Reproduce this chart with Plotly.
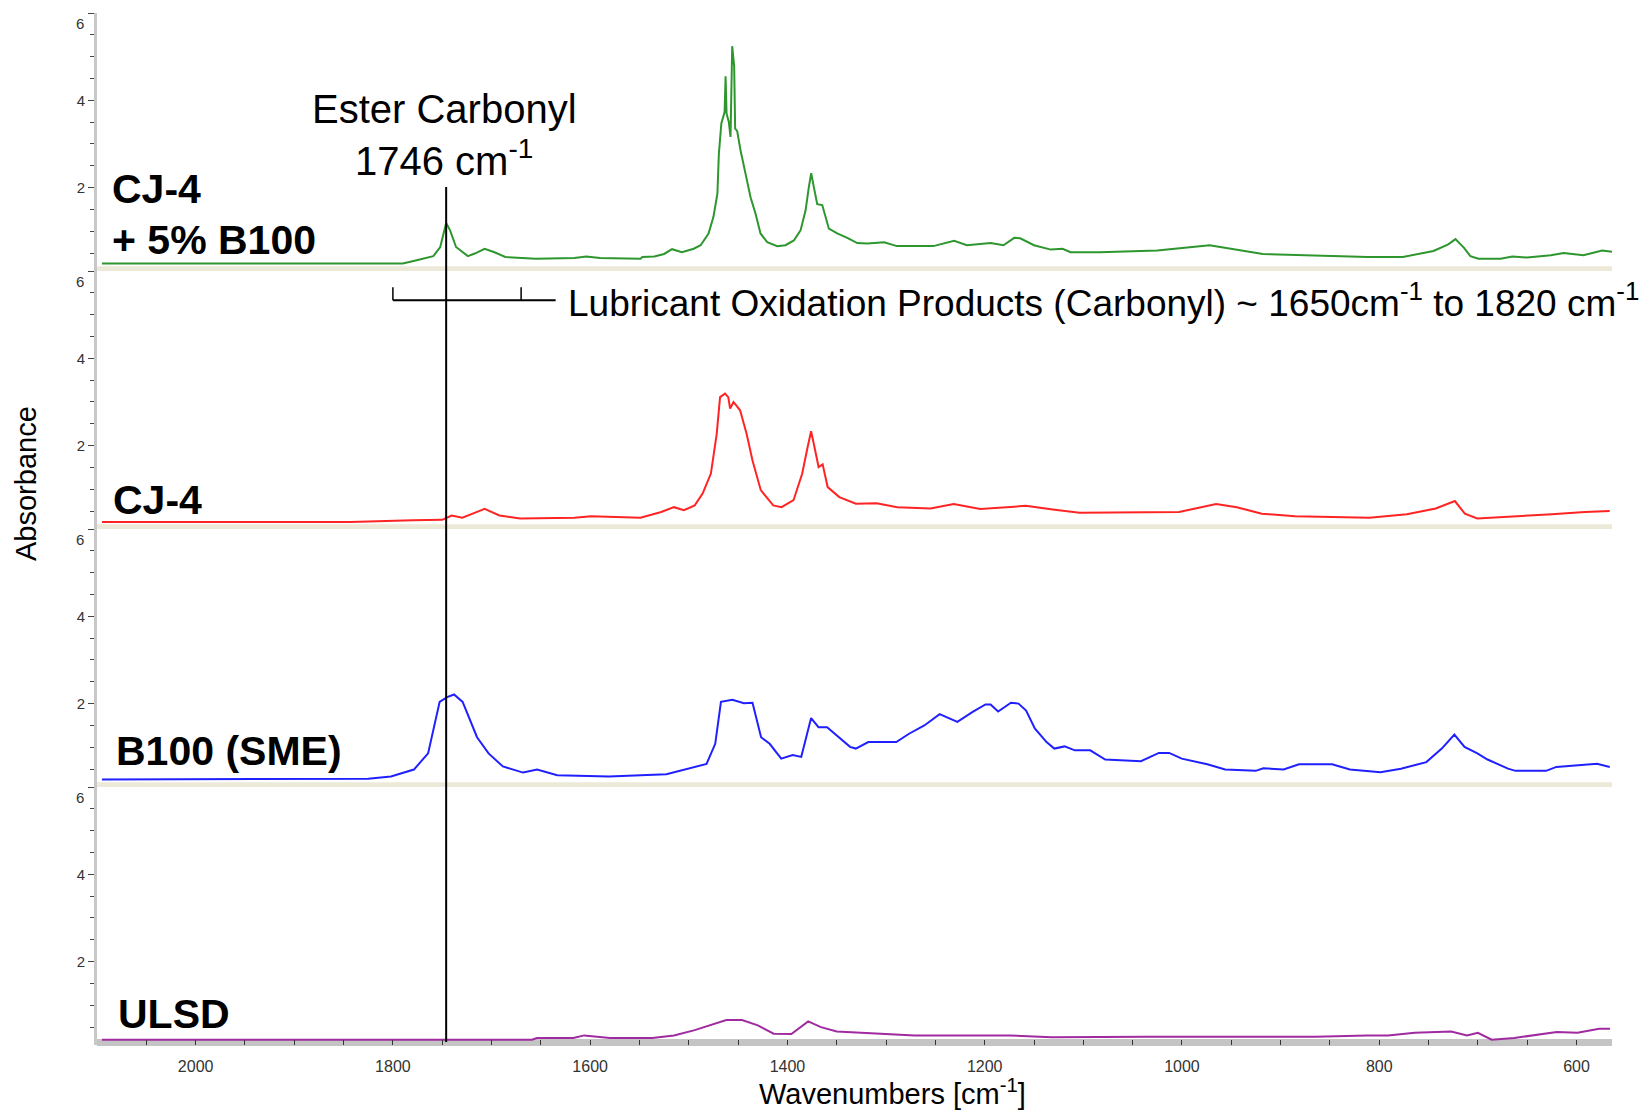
import plotly.graph_objects as go
from plotly.subplots import make_subplots

# ---------------- data (wavenumber cm-1, absorbance) ----------------
green_wn = [2095, 1790, 1779, 1759, 1752, 1748, 1746, 1742, 1736, 1724, 1717, 1707, 1697, 1686, 1655,
            1616, 1604, 1590, 1549, 1547, 1535, 1525, 1517, 1507, 1495, 1488, 1480, 1475, 1471, 1469.5,
            1467, 1463.7, 1462.7, 1461.7, 1459.4, 1457.7, 1456, 1454, 1453, 1451, 1447.5, 1442.5, 1437.4,
            1432.3, 1427.3, 1420.5, 1410.3, 1402, 1393.5, 1386.7, 1381.6, 1378.3, 1375.9, 1373.2, 1369.8,
            1364.7, 1358, 1349.5, 1339.3, 1329.2, 1319, 1302, 1289, 1252, 1231, 1218, 1194, 1181, 1170,
            1164, 1150, 1133, 1121, 1113, 1083, 1025, 972, 918, 812, 776, 745, 730, 722.7, 714, 707.6,
            699.4, 677, 665, 650, 626, 613, 593, 574, 564]
green_abs = [0.26, 0.26, 0.32, 0.43, 0.64, 1.02, 1.19, 1.02, 0.64, 0.43, 0.49, 0.60, 0.52, 0.41, 0.37,
             0.39, 0.42, 0.39, 0.37, 0.41, 0.42, 0.48, 0.59, 0.52, 0.60, 0.68, 0.95, 1.33, 1.86, 2.78,
             3.47, 3.73, 4.55, 3.70, 3.50, 3.16, 5.24, 4.78, 3.35, 3.30, 2.85, 2.32, 1.78,
             1.40, 0.95, 0.75, 0.66, 0.68, 0.79, 1.02, 1.48, 2.01, 2.33, 2.01, 1.62,
             1.60, 1.06, 0.95, 0.85, 0.73, 0.72, 0.75, 0.66, 0.66, 0.78, 0.68, 0.73, 0.68, 0.85,
             0.84, 0.68, 0.58, 0.60, 0.52, 0.52, 0.56, 0.68, 0.48, 0.41, 0.41, 0.55, 0.70, 0.82, 0.62, 0.43,
             0.37, 0.37, 0.42, 0.40, 0.45, 0.50, 0.45, 0.56, 0.53]

red_wn = [2095, 1843, 1780, 1750, 1740.5, 1729.5, 1707, 1692, 1671, 1616, 1599, 1549, 1528, 1515, 1505,
          1494, 1486, 1477.6, 1471.7, 1468.3, 1463.3, 1460, 1458.1, 1454.7, 1448, 1441.4, 1435.4, 1427,
          1414.4, 1406, 1393.8, 1385, 1379.5, 1376, 1372.6, 1368.4, 1364.3, 1359.2, 1347.4, 1330.6,
          1309.6, 1288.6, 1255, 1231.4, 1204.5, 1158.4, 1129, 1103.8, 1003, 965.4, 944.4, 919, 885.5,
          810, 772, 742.7, 723.3, 713.2, 700.6, 658.6, 625, 591.5, 566.3]
red_abs = [0.25, 0.25, 0.29, 0.30, 0.40, 0.35, 0.55, 0.40, 0.33, 0.35, 0.38, 0.35, 0.48, 0.59, 0.52,
           0.63, 0.90, 1.36, 2.27, 3.11, 3.19, 3.11, 2.85, 3.00, 2.81, 2.27, 1.66, 0.98,
           0.63, 0.59, 0.75, 1.36, 1.97, 2.33, 1.97, 1.51, 1.57, 1.05, 0.82, 0.67,
           0.68, 0.59, 0.56, 0.66, 0.55, 0.62, 0.53, 0.46, 0.48, 0.66, 0.59, 0.44, 0.38,
           0.35, 0.43, 0.56, 0.73, 0.44, 0.33, 0.38, 0.43, 0.48, 0.50]

blue_wn = [2095, 1825, 1802, 1778.7, 1764.3, 1758.4, 1752.6, 1745, 1738, 1729.3, 1714.7, 1703, 1688.5,
           1668, 1653.8, 1633.4, 1581, 1522.7, 1482, 1473.2, 1467.4, 1455.8, 1444.1, 1435.4, 1426.7,
           1418, 1406.3, 1394.7, 1386, 1376, 1368.5, 1359.8, 1336.5, 1330.7, 1318, 1289.6, 1276.7,
           1261.2, 1245.7, 1227.7, 1212.2, 1199.2, 1194, 1186.4, 1173.4, 1165.7, 1158, 1149.2, 1137.3,
           1129.4, 1119, 1108.6, 1093, 1077.8, 1041.6, 1023.4, 1013, 1000.2, 974.3, 956.2, 925.2, 917.5,
           896.9, 881.4, 847.8, 829.7, 798.8, 778, 752.2, 736.6, 723.8, 713.5, 700.5, 690.2, 669.5,
           661.8, 630.8, 620.4, 589.4, 579.2, 566.3]
blue_abs = [0.26, 0.28, 0.33, 0.49, 0.86, 1.46, 2.04, 2.15, 2.21, 2.04, 1.23, 0.86, 0.56,
            0.42, 0.49, 0.36, 0.33, 0.38, 0.62, 1.08, 2.04, 2.09, 2.01, 2.02, 1.23,
            1.08, 0.74, 0.82, 0.78, 1.67, 1.46, 1.46, 1.01, 0.97, 1.12, 1.12, 1.31,
            1.50, 1.76, 1.58, 1.81, 1.98, 1.98, 1.82, 2.02, 2.00, 1.84, 1.43, 1.12,
            0.97, 1.02, 0.93, 0.93, 0.72, 0.68, 0.87, 0.87, 0.74, 0.61, 0.49, 0.46, 0.52,
            0.49, 0.61, 0.61, 0.49, 0.43, 0.51, 0.66, 0.97, 1.29, 1.01, 0.86, 0.72, 0.51,
            0.46, 0.46, 0.55, 0.59, 0.62, 0.55]

purple_wn = [2095, 1659, 1654, 1617, 1606, 1580, 1537, 1515, 1494, 1462, 1446, 1430, 1414, 1396, 1379,
             1366, 1350, 1313, 1271, 1174, 1132, 1036, 972, 865, 812, 791, 764, 727, 711, 700, 686,
             663, 620, 599, 577, 566]
purple_abs = [0.21, 0.21, 0.25, 0.25, 0.31, 0.25, 0.25, 0.31, 0.43, 0.66, 0.66, 0.54, 0.35, 0.34, 0.63,
              0.50, 0.40, 0.36, 0.31, 0.31, 0.27, 0.28, 0.28, 0.28, 0.31, 0.31, 0.37, 0.40, 0.31, 0.37, 0.21,
              0.25, 0.39, 0.37, 0.46, 0.46]

series = [
    ("CJ-4 + 5% B100", green_wn, green_abs, "#2E962E"),
    ("CJ-4", red_wn, red_abs, "#FF2424"),
    ("B100 (SME)", blue_wn, blue_abs, "#2020FF"),
    ("ULSD", purple_wn, purple_abs, "#A02AA0"),
]

x_range = [2100, 564]
y_range = [0.09, 6]
y_ticks = [2, 4, 6]
y_ticktext = ["2", "4", ""]      # the top "6" is drawn just below its tick, as in the original
ester_wn = 1746
bracket_wn = [1800, 1670, 1635]

# ---------------- layout geometry (page pixels) ----------------
OFF = 8                      # default body margin of the html page
PAGE_W, PAGE_H = 1649, 1114
W, H = PAGE_W - OFF, PAGE_H - OFF
PLOT_L, PLOT_R, PLOT_T, PLOT_B = 97, 1612, 13, 1045   # page pixels
ML = PLOT_L - OFF
MT = PLOT_T - OFF
MR = W - (PLOT_R - OFF)
MB = H - (PLOT_B - OFF)
PW = PLOT_R - PLOT_L
PH = PLOT_B - PLOT_T
PANEL = PH / 4.0


def px(x):
    return (x - PLOT_L) / PW


def py(y):
    return (PLOT_B - y) / PH


FONT = "Liberation Sans, Arial, sans-serif"

fig = make_subplots(rows=4, cols=1, shared_xaxes=True, vertical_spacing=0)

for i, (name, wn, ab, col) in enumerate(series):
    fig.add_trace(go.Scatter(x=wn, y=ab, mode="lines", name=name,
                             line=dict(color=col, width=2), showlegend=False),
                  row=i + 1, col=1)
    fig.update_yaxes(range=y_range, tickvals=y_ticks, ticktext=y_ticktext,
                     ticks="outside", ticklen=6, tickcolor="#444", tickwidth=1,
                     minor=dict(dtick=0.5, ticks="outside", ticklen=4, tickcolor="#444"),
                     showline=True, linecolor="#C8C8C8", linewidth=3,
                     showgrid=False, zeroline=False, automargin=False,
                     tickfont=dict(family=FONT, size=15, color="#333"),
                     row=i + 1, col=1)
    fig.update_xaxes(range=x_range, showgrid=False, zeroline=False, automargin=False,
                     row=i + 1, col=1)

for i in range(3):
    fig.update_xaxes(showticklabels=False, ticks="", showline=False, row=i + 1, col=1)

fig.update_xaxes(tick0=2000, dtick=200, ticks="inside", ticklen=5, tickcolor="#333",
                 minor=dict(dtick=50, ticks="inside", ticklen=5, tickcolor="#333"),
                 tickfont=dict(family=FONT, size=16, color="#333"),
                 ticklabelstandoff=10, showline=False, row=4, col=1)

shapes = []
# beige separators between panels
for k in range(3):
    bottom_px = PLOT_T + PANEL * (k + 1)
    shapes.append(dict(type="rect", xref="paper", yref="paper", x0=0, x1=1,
                       y0=py(bottom_px), y1=py(bottom_px - 4.7),
                       fillcolor="#ECE9D8", line=dict(width=0), layer="below"))
# grey bottom axis band
shapes.append(dict(type="rect", xref="paper", yref="paper", x0=0, x1=1,
                   y0=py(1046), y1=py(1039),
                   fillcolor="#C4C4C4", line=dict(width=0), layer="below"))
# ester carbonyl line
shapes.append(dict(type="line", xref="x4", yref="paper", x0=ester_wn, x1=ester_wn,
                   y0=py(1042), y1=py(187), line=dict(color="black", width=2)))
# oxidation bracket (panel 2 data coords)
shapes.append(dict(type="line", xref="x2", yref="y2", x0=bracket_wn[0], x1=bracket_wn[2],
                   y0=5.33, y1=5.33, line=dict(color="black", width=2)))
for bx in bracket_wn[:2]:
    shapes.append(dict(type="line", xref="x2", yref="y2", x0=bx, x1=bx,
                       y0=5.33, y1=5.63, line=dict(color="black", width=1.5)))

annotations = []


def ann(text, x, y, size, xanchor="left", angle=0, color="black"):
    annotations.append(dict(text=text, x=px(x), y=py(y), xref="paper", yref="paper",
                            xanchor=xanchor, yanchor="middle", showarrow=False,
                            textangle=angle,
                            font=dict(family=FONT, size=size, color=color)))


# top "6" tick labels, sitting just under each panel's top tick
for k in range(4):
    ann("6", 86, PLOT_T + PANEL * k + 10, 15, xanchor="right", color="#333")

ann("<b>CJ-4</b>", 110, 189, 41)
ann("<b>+ 5% B100</b>", 110, 240, 41)
ann("<b>CJ-4</b>", 111, 500, 41)
ann("<b>B100 (SME)</b>", 114, 751, 41)
ann("<b>ULSD</b>", 116, 1014, 41)
ann("Ester Carbonyl", 444, 109, 40, xanchor="center")
ann("1746 cm<sup>-1</sup>", 444, 158, 40, xanchor="center")
ann("Lubricant Oxidation Products (Carbonyl) ~ 1650cm<sup>-1</sup> to 1820 cm<sup>-1</sup>",
    566, 300, 37)
ann("Absorbance", 26, 484, 29, xanchor="center", angle=-90)
ann("Wavenumbers [cm<sup>-1</sup>]", 892, 1092, 29, xanchor="center")

fig.update_layout(width=W, height=H, margin=dict(l=ML, r=MR, t=MT, b=MB, autoexpand=False),
                  paper_bgcolor="white", plot_bgcolor="white",
                  shapes=shapes, annotations=annotations, showlegend=False)

fig.write_html("out.html")
